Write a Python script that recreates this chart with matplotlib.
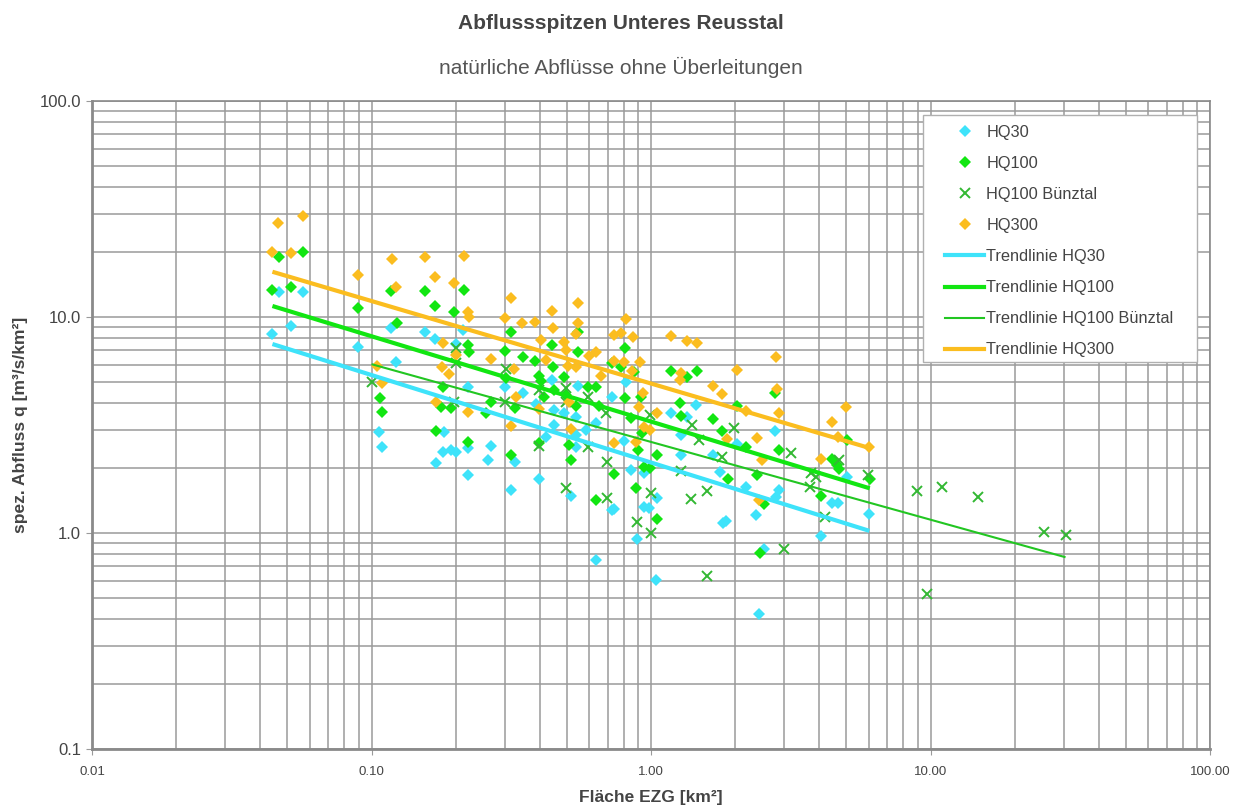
import numpy as np
import matplotlib
matplotlib.use('Agg')
import matplotlib.pyplot as plt
from matplotlib.lines import Line2D
from matplotlib.patches import Rectangle
from matplotlib.ticker import FixedLocator, NullFormatter

plt.rcParams['font.family'] = ['Liberation Sans', 'DejaVu Sans']

# --- data (area km2, specific discharge m3/s/km2) ---
hq30_x = [0.0466, 0.0568, 0.0442, 0.0517, 0.0893, 0.117, 0.1225, 0.155, 0.106, 0.109,
          0.168, 0.201, 0.212, 0.221, 0.299, 0.347, 0.444, 0.546, 0.727, 0.812,
          0.387, 0.45, 0.489, 0.538, 0.635, 0.45, 0.585, 0.421, 0.538, 0.182,
          0.18, 0.193, 0.201, 0.221, 0.268, 0.26, 0.17, 0.327, 0.221, 0.398,
          0.315, 0.517, 0.724, 0.538, 0.635, 1.45, 1.18, 1.35, 1.28, 2.77,
          2.03, 0.801, 1.66, 1.28, 0.846, 0.944, 1.77, 2.18, 2.87, 2.79,
          1.05, 0.944, 0.984, 2.37, 1.85, 1.81, 1.04, 2.53, 4.07, 0.894,
          0.738, 2.43, 5.03, 4.44, 4.67, 6.04]
hq30_y = [13.0, 13.0, 8.32, 9.11, 7.29, 8.87, 6.17, 8.50, 2.93, 2.51,
          7.88, 7.50, 8.71, 4.76, 4.73, 4.44, 5.11, 4.79, 4.28, 5.02,
          3.96, 3.71, 3.58, 3.45, 3.22, 3.16, 3.00, 2.79, 2.84, 2.94,
          2.38, 2.42, 2.38, 2.47, 2.54, 2.18, 2.10, 2.14, 1.86, 1.77,
          1.59, 1.48, 1.28, 2.51, 0.75, 3.91, 3.61, 3.45, 2.84, 2.98,
          2.58, 2.68, 2.30, 2.30, 1.96, 1.89, 1.92, 1.64, 1.58, 1.47,
          1.45, 1.32, 1.30, 1.21, 1.14, 1.11, 0.606, 0.84, 0.97, 0.935,
          1.29, 0.42, 1.81, 1.37, 1.37, 1.22]

hq100_x = [0.0466, 0.0568, 0.0442, 0.0517, 0.0893, 0.117, 0.1235, 0.155, 0.107, 0.109,
           0.214, 0.169, 0.198, 0.315, 0.546, 0.221, 0.223, 0.299, 0.347, 0.385,
           0.444, 0.546, 0.727, 0.807, 0.447, 0.398, 0.303, 0.404, 0.489, 0.593,
           0.635, 0.18, 0.193, 0.177, 0.268, 0.327, 0.415, 0.538, 0.45, 0.496,
           0.652, 0.807, 0.17, 0.221, 0.315, 0.398, 0.51, 0.517, 0.738, 0.635,
           0.257, 0.779, 0.87, 1.18, 1.35, 1.46, 0.919, 1.27, 1.28, 0.846,
           1.67, 1.79, 2.03, 2.77, 2.18, 2.87, 0.927, 0.901, 1.05, 0.944,
           0.989, 1.89, 2.40, 0.886, 2.53, 1.05, 2.45, 5.03, 4.44, 4.63,
           4.72, 4.07, 6.06]
hq100_y = [18.9, 19.9, 13.3, 13.7, 11.0, 13.2, 9.41, 13.2, 4.23, 3.62,
           13.4, 11.2, 10.5, 8.55, 8.55, 7.42, 6.91, 6.98, 6.51, 6.26,
           7.42, 6.91, 6.14, 7.21, 5.85, 5.33, 5.20, 5.07, 5.29, 4.76,
           4.73, 4.76, 3.78, 3.82, 4.05, 3.78, 4.28, 3.87, 4.59, 4.35,
           3.87, 4.20, 2.97, 2.65, 2.30, 2.60, 2.56, 2.18, 1.88, 1.42,
           3.58, 5.85, 5.58, 5.64, 5.26, 5.64, 4.28, 3.99, 3.48, 3.40,
           3.36, 2.97, 3.87, 4.44, 2.51, 2.42, 2.89, 2.42, 2.30, 2.03,
           1.99, 1.77, 1.86, 1.61, 1.36, 1.16, 0.81, 2.70, 2.19, 2.06,
           1.97, 1.48, 1.78]

bz_x = [0.1, 0.201, 0.201, 0.303, 0.198, 0.301, 0.398, 0.496, 0.496, 0.597,
        0.689, 0.398, 0.597, 0.698, 0.496, 0.698, 0.989, 1.40, 1.48, 1.98,
        1.80, 1.28, 3.18, 3.72, 3.69, 1.59, 1.39, 0.998, 0.894, 0.998,
        1.59, 2.99, 4.18, 5.97, 4.72, 3.88, 8.93, 10.97, 14.8, 25.5,
        30.4, 9.70]
bz_y = [5.02, 7.16, 6.10, 5.73, 4.05, 4.05, 4.59, 4.68, 4.05, 4.28,
        3.61, 2.53, 2.51, 2.14, 1.61, 1.45, 3.52, 3.16, 2.70, 3.05,
        2.25, 1.94, 2.35, 1.90, 1.63, 1.57, 1.44, 1.53, 1.12, 1.00,
        0.632, 0.843, 1.19, 1.86, 2.18, 1.82, 1.57, 1.63, 1.47, 1.01,
        0.98, 0.52]

hq300_x = [0.0463, 0.0568, 0.0442, 0.0517, 0.0893, 0.118, 0.1225, 0.155, 0.105, 0.109,
           0.169, 0.214, 0.198, 0.315, 0.55, 0.444, 0.221, 0.224, 0.299, 0.345,
           0.385, 0.447, 0.546, 0.538, 0.738, 0.779, 0.812, 0.18, 0.404, 0.489,
           0.496, 0.635, 0.601, 0.268, 0.421, 0.503, 0.538, 0.738, 0.801, 0.179,
           0.19, 0.324, 0.661, 0.17, 0.221, 0.329, 0.398, 0.51, 0.315, 0.517,
           0.738, 0.201, 0.862, 1.18, 1.34, 1.46, 0.911, 0.853, 1.28, 1.27,
           2.03, 2.79, 1.67, 1.79, 0.937, 0.906, 1.05, 2.18, 2.83, 2.87,
           0.944, 0.989, 1.87, 2.40, 0.886, 2.50, 4.04, 2.43, 5.0, 4.44,
           4.67, 6.01]
hq300_y = [27.2, 29.4, 19.9, 19.7, 15.6, 18.6, 13.7, 19.0, 5.93, 4.93,
           15.3, 19.2, 14.3, 12.2, 11.6, 10.7, 10.6, 9.97, 9.93, 9.35,
           9.51, 8.87, 9.35, 8.32, 8.25, 8.46, 9.79, 7.55, 7.83, 7.69,
           7.04, 6.91, 6.60, 6.37, 6.32, 5.93, 5.85, 6.26, 6.21, 5.85,
           5.45, 5.73, 5.33, 4.05, 3.64, 4.25, 3.74, 4.05, 3.14, 3.02,
           2.62, 6.67, 8.11, 8.17, 7.74, 7.60, 6.21, 5.64, 5.49, 5.11,
           5.68, 6.55, 4.79, 4.40, 4.44, 3.82, 3.58, 3.67, 4.63, 3.61,
           3.10, 3.00, 2.72, 2.76, 2.65, 2.18, 2.19, 1.42, 3.82, 3.28,
           2.79, 2.49]

# power trendlines y = a * x^b
trend_names = ['Trendlinie HQ30', 'Trendlinie HQ100', 'Trendlinie HQ100 Bünztal', 'Trendlinie HQ300']
trend_a = [2.12, 3.28, 2.64, 4.92]
trend_b = [-0.405, -0.395, -0.360, -0.382]

c30 = '#3EE3FA'
c100 = '#12E612'
cbz = '#33B833'
c300 = '#FBBD1F'
grid_c = '#9A9A9A'
txt_c = '#444444'
ms_d = 5.8

fig = plt.figure(figsize=(12.42, 8.08), dpi=100)
ax = fig.add_axes([0.0741, 0.073, 0.9002, 0.802])

ax.set_xscale('log')
ax.set_yscale('log')
ax.set_xlim(0.01, 100)
ax.set_ylim(0.1, 100)

ax.plot(hq30_x, hq30_y, 'D', color=c30, ms=ms_d, mew=0, zorder=3)
ax.plot(hq100_x, hq100_y, 'D', color=c100, ms=ms_d, mew=0, zorder=3)
ax.plot(bz_x, bz_y, 'x', color=cbz, ms=7.5, mew=1.4, zorder=3)
ax.plot(hq300_x, hq300_y, 'D', color=c300, ms=ms_d, mew=0, zorder=3)

series_x = [hq30_x, hq100_x, bz_x, hq300_x]
trend_col = [c30, c100, '#22C622', c300]
trend_lw = [3.0, 3.0, 1.5, 3.0]
for sx, a, b, col, lw in zip(series_x, trend_a, trend_b, trend_col, trend_lw):
    xs = np.logspace(np.log10(min(sx)), np.log10(max(sx)), 50)
    ax.plot(xs, a * xs ** b, color=col, lw=lw, zorder=4, solid_capstyle='butt')

# grid
decades = [0.01, 0.1, 1, 10]
minor = [d * k for d in decades for k in range(2, 10)]
ax.xaxis.set_major_locator(FixedLocator([0.01, 0.1, 1, 10, 100]))
ax.xaxis.set_minor_locator(FixedLocator(minor))
ax.yaxis.set_major_locator(FixedLocator([0.1, 1, 10, 100]))
ax.yaxis.set_minor_locator(FixedLocator([d * k for d in [0.1, 1, 10] for k in range(2, 10)]))
ax.set_xticklabels(['0.01', '0.10', '1.00', '10.00', '100.00'])
ax.set_yticklabels(['0.1', '1.0', '10.0', '100.0'])
ax.xaxis.set_minor_formatter(NullFormatter())
ax.yaxis.set_minor_formatter(NullFormatter())
ax.grid(True, which='both', color=grid_c, lw=1.1)
ax.set_axisbelow(True)

ax.tick_params(axis='x', which='major', labelsize=9.5, colors=grid_c, labelcolor=txt_c, length=4, pad=8)
ax.tick_params(axis='y', which='major', labelsize=12, colors=grid_c, labelcolor=txt_c, length=4, pad=4)
ax.tick_params(which='minor', length=0)
for s in ax.spines.values():
    s.set_color('#8A8A8A')
    s.set_linewidth(1.2)
ax.spines['left'].set_linewidth(2)
ax.spines['bottom'].set_linewidth(2)

ax.set_xlabel('Fläche EZG [km²]', fontsize=12.5, fontweight='bold', color=txt_c, labelpad=9)
ax.set_ylabel('spez. Abfluss q [m³/s/km²]', fontsize=12.5, fontweight='bold', color=txt_c, labelpad=8)

fig.text(0.5, 0.971, 'Abflussspitzen Unteres Reusstal', ha='center', va='center',
         fontsize=15, fontweight='bold', color=txt_c)
fig.text(0.5, 0.916, 'natürliche Abflüsse ohne Überleitungen', ha='center', va='center',
         fontsize=15, color='#555555')

# legend box
ax.add_patch(Rectangle((0.7433, 0.597), 0.2451, 0.381, transform=ax.transAxes,
                       facecolor='white', edgecolor='#B0B0B0', lw=1.0, zorder=5))

handles = [
    Line2D([], [], ls='none', marker='D', color=c30, ms=ms_d, mew=0),
    Line2D([], [], ls='none', marker='D', color=c100, ms=ms_d, mew=0),
    Line2D([], [], ls='none', marker='x', color=cbz, ms=7.5, mew=1.4),
    Line2D([], [], ls='none', marker='D', color=c300, ms=ms_d, mew=0),
]
for col, lw in zip(trend_col, trend_lw):
    handles.append(Line2D([], [], color=col, lw=lw))
labels = ['HQ30', 'HQ100', 'HQ100 Bünztal', 'HQ300'] + trend_names
leg = ax.legend(handles, labels, loc='upper left', bbox_to_anchor=(0.763, 0.963),
                borderaxespad=0, borderpad=0, fontsize=11.8, labelspacing=0.98,
                handlelength=2.4, handletextpad=0.12, frameon=False)
leg.set_zorder(6)
for t in leg.get_texts():
    t.set_color(txt_c)

fig.savefig('out.png', dpi=100)
